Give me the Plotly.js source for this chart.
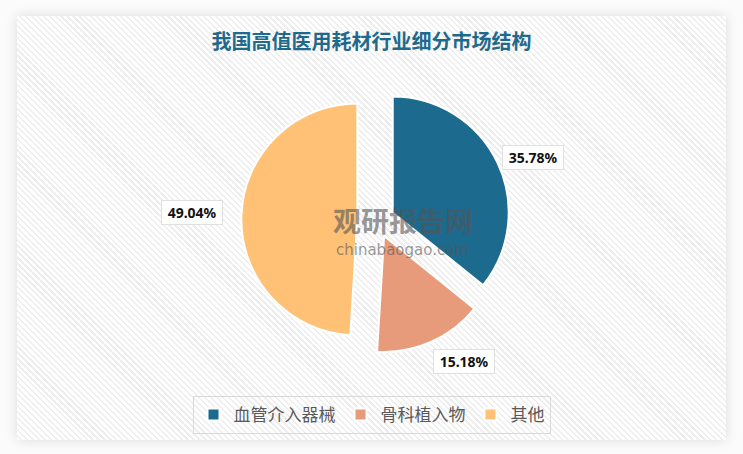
<!DOCTYPE html>
<html><head><meta charset="utf-8">
<script src="https://cdn.plot.ly/plotly-3.0.1.min.js"></script>
<style>
html,body{margin:0;padding:0;width:743px;height:454px;overflow:hidden;background:#fbfbfb;}
#panel{position:absolute;left:17px;top:16px;width:709px;height:424px;background-color:#fff;
background-image:repeating-linear-gradient(45deg,#ffffff 0px,#ffffff 2.6px,#eeeeee 2.6px,#eeeeee 4.2px);
box-shadow:0 0 12px rgba(0,0,0,0.13);}
#chart{position:absolute;left:0;top:0;width:743px;height:454px;}
</style></head><body>
<div id="panel"></div><div id="chart"></div>
<script>
const categories = ['血管介入器械', '骨科植入物', '其他'];
const shares = [35.78, 15.18, 49.04];
const titleText = '我国高值医用耗材行业细分市场结构';

const colors = ['#1c6a8e', '#e89b7b', '#fec175'];
const pulls = [0.15, 0.15, 0.17];

const W = 743, H = 454;
const domX = [0.30, 0.7149], domY = [0.2165, 0.8143];

// pie geometry as Plotly computes it (margins 0)
const rx = W * (domX[1] - domX[0]) / 2, ry = H * (domY[1] - domY[0]) / 2;
const maxPull = Math.max(...pulls);
const r = Math.min(rx, ry) / (1 + maxPull);
const cx = W * (domX[0] + domX[1]) / 2;
const cy = H * (1 - domY[0]) - ry;

const total = shares.reduce((a, b) => a + b, 0);
let cum = 0;
const labelAnn = shares.map((v, i) => {
  const mid = (cum + v / 2) / total * 2 * Math.PI;
  cum += v;
  const dx = Math.sin(mid), dy = -Math.cos(mid);
  const vertical = Math.abs(dy) > Math.abs(dx);
  const R = r * (1 + pulls[i]) + (vertical ? 6 : (dx < 0 ? 18 : 5));
  const px = cx + R * dx, py = cy + R * dy;
  return {
    xref: 'paper', yref: 'paper', x: px / W, y: 1 - py / H,
    xanchor: dx >= 0 ? 'left' : 'right',
    yanchor: vertical ? (dy > 0 ? 'top' : 'bottom') : 'middle',
    yshift: vertical ? -2 : 3,
    text: '\u00a0' + v.toFixed(2) + '%\u00a0',
    showarrow: false, bgcolor: '#ffffff', bordercolor: '#e0e0e0', borderwidth: 1, borderpad: 2,
    font: {family: '"Noto Sans", "Liberation Sans", sans-serif', size: 14, color: '#111111', weight: 'bold'}
  };
});

const data = [{
  type: 'pie', labels: categories, values: shares,
  sort: false, direction: 'clockwise', rotation: 0,
  pull: pulls, domain: {x: domX, y: domY},
  marker: {colors: colors, line: {color: '#ffffff', width: 2}},
  textinfo: 'none', hoverinfo: 'label+percent'
}];

const layout = {
  width: W, height: H,
  margin: {l: 0, r: 0, t: 0, b: 0},
  paper_bgcolor: 'rgba(0,0,0,0)', plot_bgcolor: 'rgba(0,0,0,0)',
  title: {text: titleText, x: 0.5, xanchor: 'center', y: 1 - 42 / H, yanchor: 'middle',
    font: {family: '"Noto Sans CJK SC", sans-serif', size: 20, color: '#1f6a8c', weight: 'bold'}},
  showlegend: true,
  legend: {orientation: 'h', x: 0.5, xanchor: 'center', y: 1 - 415 / H, yanchor: 'middle',
    bordercolor: '#d9d9d9', borderwidth: 1, bgcolor: 'rgba(255,255,255,0)',
    font: {family: '"Noto Sans CJK SC", sans-serif', size: 17, color: '#595959'}},
  annotations: labelAnn.concat([
    {xref: 'paper', yref: 'paper', x: 403 / W, y: 1 - 220 / H, xanchor: 'center', yanchor: 'middle',
     text: '观研报告网', showarrow: false,
     font: {family: '"Noto Sans CJK SC", sans-serif', size: 28, color: 'rgba(85,85,85,0.6)', weight: 'bold'}},
    {xref: 'paper', yref: 'paper', x: 402 / W, y: 1 - 250 / H, xanchor: 'center', yanchor: 'middle',
     text: 'chinabaogao.com', showarrow: false,
     font: {family: '"DejaVu Sans", sans-serif', size: 15, color: 'rgba(85,85,85,0.6)'}}
  ])
};

Plotly.newPlot('chart', data, layout, {displayModeBar: false, staticPlot: true});
</script>
</body></html>
